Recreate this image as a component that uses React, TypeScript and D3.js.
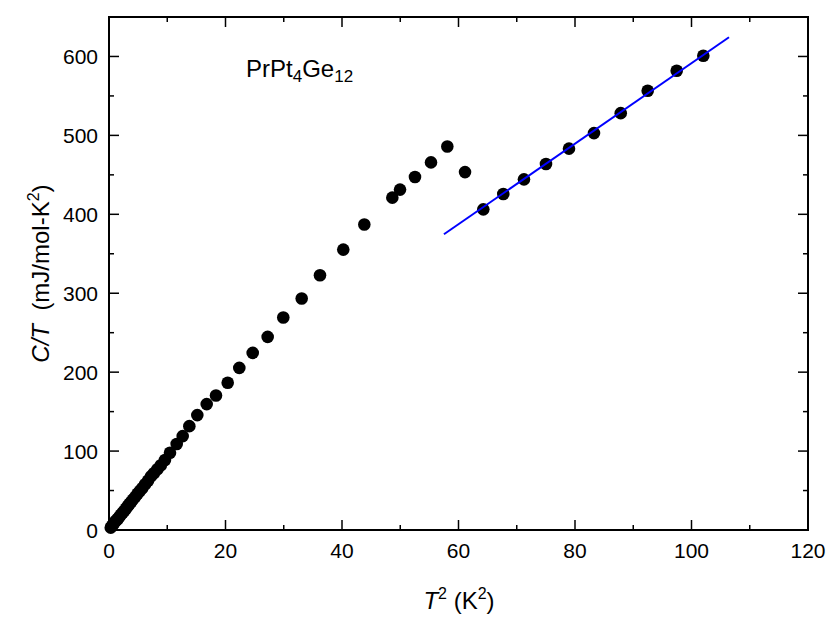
import React from "react";
import * as d3 from "d3";

const lowX = [0.3, 0.5, 0.7, 0.9, 1.1, 1.3, 1.5, 1.7, 2.0, 2.3, 2.6, 2.9, 3.2, 3.5, 3.8, 4.1, 4.5, 4.9, 5.3, 5.7, 6.2, 6.7, 7.2, 7.7, 8.3, 8.9];
const lowY = [3, 5, 7, 9, 11, 12.5, 14, 16, 19, 21.5, 24, 27, 30, 33, 35.5, 38.5, 42, 46, 49.5, 53, 58, 62.5, 68, 72, 77, 82];
const highX = [9.61, 10.47, 11.62, 12.65, 13.79, 15.16, 16.77, 18.37, 20.38, 22.37, 24.67, 27.24, 29.92, 33.08, 36.22, 40.22, 43.83, 48.64, 49.96, 52.53, 55.28, 58.08, 61.12, 64.26, 67.69, 71.24, 75.02, 78.97, 83.26, 87.85, 92.48, 97.46, 102.03];
const highY = [88.6, 97.8, 108.9, 119, 131.6, 145.6, 159.5, 170.5, 186.5, 205.4, 224.4, 244.7, 269.2, 293.3, 322.8, 355.3, 387, 421.1, 431.3, 447.2, 465.8, 486, 453.5, 406.3, 425.7, 444.3, 463.7, 483.2, 502.9, 528.2, 556.6, 581.9, 600.9];
const fitX = [57.5, 106.44];
const fitY = [374.7, 624.4];
const xTicks = [0, 20, 40, 60, 80, 100, 120];
const yTicks = [0, 100, 200, 300, 400, 500, 600];

const W = 830, H = 623;
const L = 109, R = 808, T = 17, B = 530;

export default function App() {
  const x = d3.scaleLinear().domain([0, 120]).range([L, R]);
  const y = d3.scaleLinear().domain([0, 650]).range([B, T]);
  const pts = lowX.map((v, i) => [v, lowY[i]]).concat(highX.map((v, i) => [v, highY[i]]));
  const line = d3.line<number[]>().x(d => x(d[0])).y(d => y(d[1]));
  const fitData = fitX.map((v, i) => [v, fitY[i]]);
  const xMinor = d3.range(10, 120, 20);
  const yMinor = d3.range(50, 650, 100);
  const font = "Liberation Sans, Arial, Helvetica, sans-serif";
  const ax = "#000";
  return (
    <svg width={W} height={H} style={{ position: "absolute", left: 0, top: 0 }} fontFamily={font}>
      <rect x={0} y={0} width={W} height={H} fill="#fff" />
      {xTicks.map(t => (
        <g key={"xt" + t}>
          <line x1={x(t)} x2={x(t)} y1={B} y2={B - 10} stroke={ax} strokeWidth={1.5} />
          <line x1={x(t)} x2={x(t)} y1={T} y2={T + 10} stroke={ax} strokeWidth={1.5} />
          <text x={x(t)} y={B + 28} fontSize={21} textAnchor="middle">{t}</text>
        </g>
      ))}
      {xMinor.map(t => (
        <g key={"xm" + t}>
          <line x1={x(t)} x2={x(t)} y1={B} y2={B - 5} stroke={ax} strokeWidth={1.5} />
          <line x1={x(t)} x2={x(t)} y1={T} y2={T + 5} stroke={ax} strokeWidth={1.5} />
        </g>
      ))}
      {yTicks.map(t => (
        <g key={"yt" + t}>
          <line x1={L} x2={L + 10} y1={y(t)} y2={y(t)} stroke={ax} strokeWidth={1.5} />
          <line x1={R} x2={R - 10} y1={y(t)} y2={y(t)} stroke={ax} strokeWidth={1.5} />
          <text x={98} y={y(t) + 8} fontSize={21} textAnchor="end">{t}</text>
        </g>
      ))}
      {yMinor.map(t => (
        <g key={"ym" + t}>
          <line x1={L} x2={L + 5} y1={y(t)} y2={y(t)} stroke={ax} strokeWidth={1.5} />
          <line x1={R} x2={R - 5} y1={y(t)} y2={y(t)} stroke={ax} strokeWidth={1.5} />
        </g>
      ))}
      <rect x={L} y={T} width={R - L} height={B - T} fill="none" stroke={ax} strokeWidth={2} />
      {pts.map((d, i) => (
        <circle key={i} cx={x(d[0])} cy={y(d[1])} r={6.3} fill="#000" />
      ))}
      <path d={line(fitData) || ""} stroke="#0000ff" strokeWidth={2} fill="none" />
      <text x={246} y={77} fontSize={24}>
        PrPt<tspan fontSize={17} dy={5}>4</tspan><tspan dy={-5}>Ge</tspan><tspan fontSize={17} dy={5}>12</tspan>
      </text>
      <text x={459} y={609} fontSize={24} textAnchor="middle" style={{ whiteSpace: "pre" }}>
        <tspan fontStyle="italic">T</tspan><tspan fontSize={16} dy={-10}>2</tspan><tspan dy={10}>{" (K"}</tspan><tspan fontSize={16} dy={-10}>2</tspan><tspan dy={10}>)</tspan>
      </text>
      <text transform={`translate(49, ${(T + B) / 2}) rotate(-90)`} fontSize={24} textAnchor="middle" style={{ whiteSpace: "pre" }}>
        <tspan fontStyle="italic">C/T</tspan><tspan>{"  (mJ/mol-K"}</tspan><tspan fontSize={16} dy={-10}>2</tspan><tspan dy={10}>)</tspan>
      </text>
    </svg>
  );
}
